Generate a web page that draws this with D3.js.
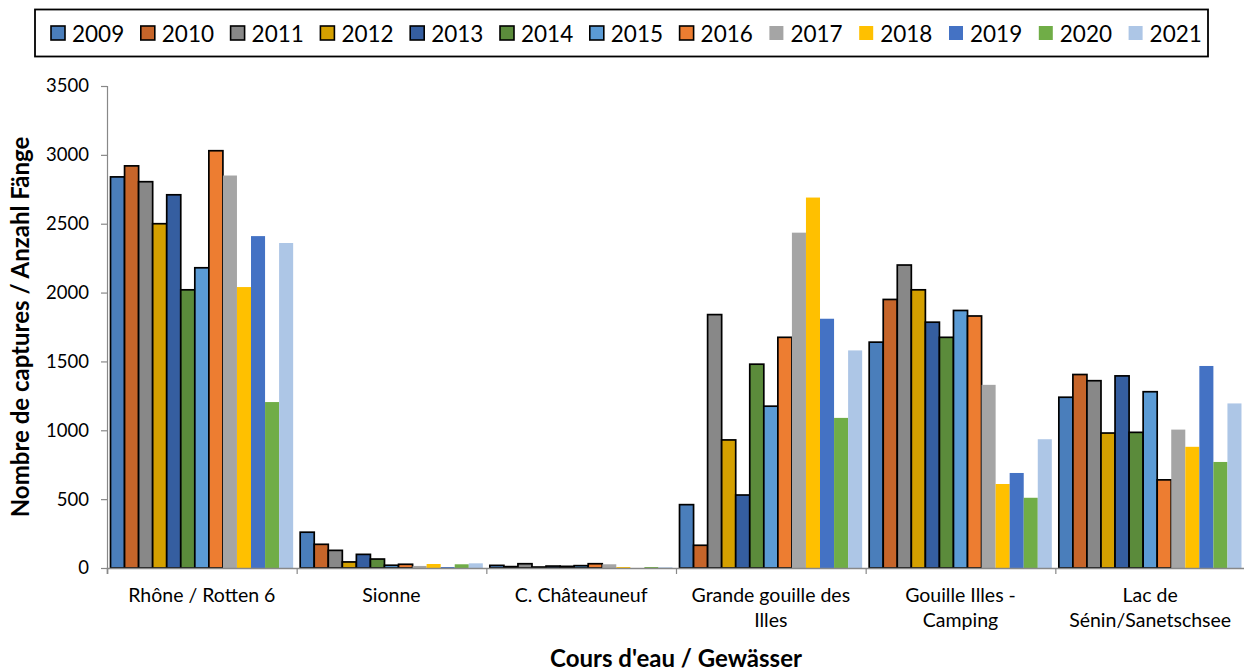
<!DOCTYPE html>
<html>
<head>
<meta charset="utf-8">
<script src="https://cdn.jsdelivr.net/npm/d3@7/dist/d3.min.js"></script>
<style>
  html, body { margin: 0; padding: 0; background: #fff; }
  svg { display: block; }
  text { font-family: Lato, "Open Sans", sans-serif; fill: #000; }
</style>
</head>
<body>
<svg id="chart" width="1244" height="671"></svg>
<script>
// ---- data ----
const categories = [
  ["Rhône / Rotten 6"],
  ["Sionne"],
  ["C. Châteauneuf"],
  ["Grande gouille des", "Illes"],
  ["Gouille Illes -", "Camping"],
  ["Lac de", "Sénin/Sanetschsee"]
];
const years = ["2009","2010","2011","2012","2013","2014","2015","2016","2017","2018","2019","2020","2021"];
const colors = ["#4a7ebb","#c6652a","#888888","#d4a000","#355ea0","#5b8b3b","#5b9bd5","#ed7d31","#a5a5a5","#ffc000","#4472c4","#70ad47","#adc6e6"];
const outlined = [true,true,true,true,true,true,true,true,false,false,false,false,false];
const v2009 = [2840, 260, 19, 460, 1640, 1240];
const v2010 = [2920, 172, 10, 165, 1950, 1405];
const v2011 = [2805, 128, 31, 1840, 2200, 1360];
const v2012 = [2500, 44, 7, 930, 2020, 980];
const v2013 = [2710, 99, 14, 530, 1785, 1395];
const v2014 = [2020, 65, 12, 1480, 1675, 985];
const v2015 = [2180, 20, 17, 1175, 1870, 1280];
const v2016 = [3030, 27, 31, 1675, 1830, 640];
const v2017 = [2850, 15, 27, 2435, 1330, 1005];
const v2018 = [2040, 29, 7, 2690, 610, 880];
const v2019 = [2410, 7, 0, 1810, 690, 1467];
const v2020 = [1205, 27, 7, 1090, 510, 770];
const v2021 = [2360, 34, 5, 1580, 935, 1195];
const yTicks = [0, 500, 1000, 1500, 2000, 2500, 3000, 3500];
const yTitle = "Nombre de captures / Anzahl Fänge";
const xTitle = "Cours d'eau / Gewässer";

const seriesValues = [v2009,v2010,v2011,v2012,v2013,v2014,v2015,v2016,v2017,v2018,v2019,v2020,v2021];

// ---- layout ----
const svg = d3.select("#chart");
const plot = { left: 107, right: 1245, top: 86, bottom: 568 };

const x0 = d3.scaleBand().domain(d3.range(categories.length)).range([plot.left, plot.right]).paddingInner(0).paddingOuter(0);
const x1 = d3.scaleBand().domain(d3.range(years.length)).range([0, x0.bandwidth()]).paddingInner(0).paddingOuter(0.25);
const y = d3.scaleLinear().domain([0, 3500]).range([plot.bottom, plot.top]);

// bars
const groups = svg.append("g").selectAll("g").data(categories).join("g")
  .attr("transform", (d, i) => `translate(${x0(i)},0)`);
groups.each(function(cat, ci) {
  d3.select(this).selectAll("rect").data(years).join("rect")
    .attr("x", (d, si) => x1(si))
    .attr("y", (d, si) => y(seriesValues[si][ci]))
    .attr("width", x1.bandwidth())
    .attr("height", (d, si) => y(0) - y(seriesValues[si][ci]))
    .attr("fill", (d, si) => colors[si])
    .attr("stroke", (d, si) => outlined[si] ? "#000" : "none")
    .attr("stroke-width", (d, si) => (outlined[si] && seriesValues[si][ci] > 0) ? 1.7 : 0);
});

// y axis
const yAxis = d3.axisLeft(y).tickValues(yTicks).tickSize(6).tickPadding(12).tickFormat(d3.format("d"));
const gy = svg.append("g").attr("transform", `translate(${plot.left},0)`).call(yAxis);
gy.select(".domain").attr("stroke", "#888").attr("stroke-width", 1.2);
gy.selectAll(".tick line").attr("stroke", "#888").attr("stroke-width", 1.2);
gy.selectAll(".tick text").attr("font-size", 18.5).attr("font-family", "Lato, sans-serif").attr("fill", "#000");

// x axis
const xAxis = d3.axisBottom(d3.scaleLinear().domain([0, categories.length]).range([plot.left, plot.right]))
  .tickValues(d3.range(categories.length + 1)).tickSize(6).tickFormat("");
const gx = svg.append("g").attr("transform", `translate(0,${plot.bottom})`).call(xAxis);
gx.select(".domain").attr("stroke", "#888").attr("stroke-width", 1.6);
gx.selectAll(".tick line").attr("stroke", "#888").attr("stroke-width", 1.2);

// category labels
const lab = svg.append("g").selectAll("text").data(categories).join("text")
  .attr("x", (d, i) => x0(i) + x0.bandwidth() / 2)
  .attr("y", 602)
  .attr("text-anchor", "middle")
  .attr("font-size", 19.5);
lab.selectAll("tspan").data(d => d).join("tspan")
  .attr("x", function() { return d3.select(this.parentNode).attr("x"); })
  .attr("dy", (d, i) => i === 0 ? 0 : 25)
  .text(d => d);

// axis titles
svg.append("text")
  .attr("x", (plot.left + plot.right) / 2)
  .attr("y", 667)
  .attr("text-anchor", "middle")
  .attr("font-size", 24)
  .attr("font-weight", "bold")
  .text(xTitle);
svg.append("text")
  .attr("transform", `translate(29,${(plot.top + plot.bottom) / 2}) rotate(-90)`)
  .attr("text-anchor", "middle")
  .attr("font-size", 24)
  .attr("font-weight", "bold")
  .text(yTitle);

// legend
const legend = svg.append("g");
legend.append("rect")
  .attr("x", 35).attr("y", 9.5).attr("width", 1173).attr("height", 47)
  .attr("fill", "#fff").attr("stroke", "#000").attr("stroke-width", 1.8);
const leg = legend.selectAll("g.item").data(years).join("g")
  .attr("class", "item")
  .attr("transform", (d, i) => `translate(${51 + i * 89.8},26)`);
leg.append("rect")
  .attr("width", 14).attr("height", 14)
  .attr("fill", (d, i) => colors[i])
  .attr("stroke", (d, i) => outlined[i] ? "#000" : "none")
  .attr("stroke-width", 1.6);
leg.append("text")
  .attr("x", 21).attr("y", 15.5)
  .attr("font-size", 22.5)
  .text(d => d);
</script>
</body>
</html>
